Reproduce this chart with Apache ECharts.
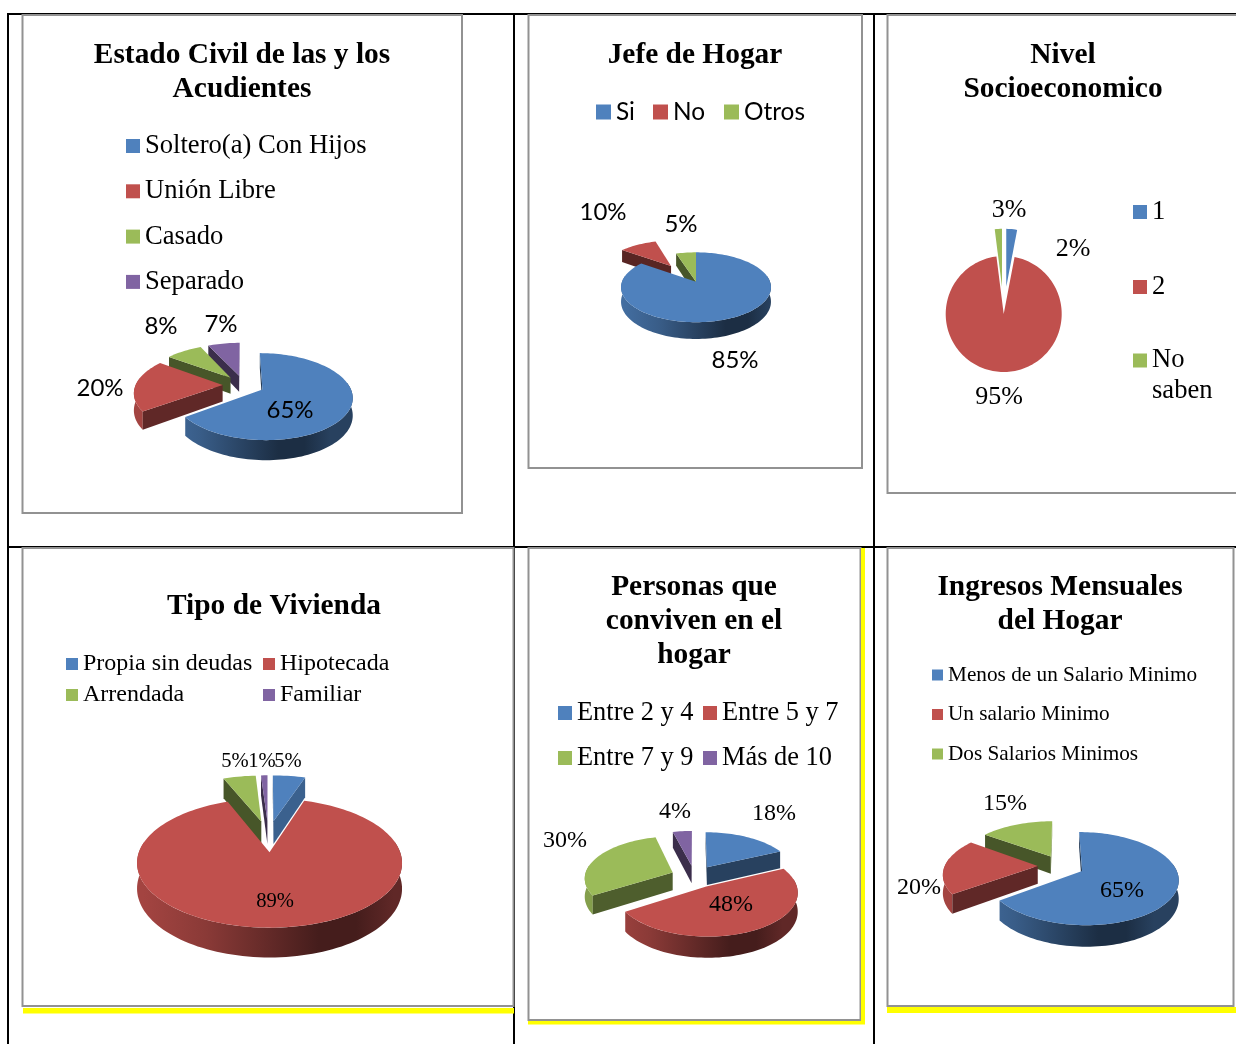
<!DOCTYPE html>
<html><head><meta charset="utf-8">
<style>html,body{margin:0;padding:0;background:#fff}#c{width:1236px;height:1044px}</style>
<script src="https://cdn.jsdelivr.net/npm/echarts@6/dist/echarts.min.js"></script>
</head><body><div id="c"></div>
<script>
// ---------- data ----------
const estadoCategories = ['Soltero(a) Con Hijos','Unión Libre','Casado','Separado'];
const estadoValues = [65,20,8,7];
const jefeCategories = ['Si','No','Otros'];
const jefeValues = [85,10,5];
const nivelCategories = ['1','2','No saben'];
const nivelValues = [3,95,2];
const viviendaCategories = ['Propia sin deudas','Hipotecada','Arrendada','Familiar'];
const viviendaValues = [5,89,5,1];
const personasCategories = ['Entre 2 y 4','Entre 5 y 7','Entre 7 y 9','Más de 10'];
const personasValues = [18,48,30,4];
const ingresosCategories = ['Menos de un Salario Minimo','Un salario Minimo','Dos Salarios Minimos'];
const ingresosValues = [65,20,15];

// ---------- layout & style ----------
const PALETTE = ['#4F81BD','#C0504D','#9BBB59','#8064A2'];
const SERIF = '"Liberation Serif"', SANS = 'Lato';
const pies = [
 {cats:estadoCategories, vals:estadoValues, cx:243.5, cy:385, rx:87, squash:.47, explode:[.24,.24,.24,.24], font:SANS, size:24,
  labels:[[290,410],[100,388],[161,326],[221,324]]},
 {cats:jefeCategories, vals:jefeValues, cx:696, cy:281.7, rx:74, squash:.46, explode:[0,.62,0], font:SANS, size:24,
  labels:[[735,360],[603,212],[681,224]]},
 {cats:nivelCategories, vals:nivelValues, cx:1003.7, cy:314, rx:58, flat:true, explode:[.47,0,.47], font:SERIF, size:26,
  labels:[[1009,210],[999,397],[1073,249]]},
 {cats:viviendaCategories, vals:viviendaValues, cx:268.4, cy:836, rx:125, squash:.46, explode:[.27,.27,.27,.27], font:SERIF, size:20.6,
  labels:[[288,762],[275,902],[235,762],[262,762]]},
 {cats:personasCategories, vals:personasValues, cx:694.5, cy:876.5, rx:88, squash:.47, k:.12, depth:.205, explode:[.27,.27,.27,.27], font:SERIF, size:24,
  labels:[[774,814],[731,905],[565,841],[675,812]]},
 {cats:ingresosCategories, vals:ingresosValues, cx:1061, cy:866, rx:93, squash:.47, explode:[.25,.25,.25], font:SERIF, size:24,
  labels:[[1122,891],[919,888],[1005,804]]}
];
const titles = [
 ['Estado Civil de las y los\nAcudientes',242,39],
 ['Jefe de Hogar',695,39],
 ['Nivel\nSocioeconomico',1063,39],
 ['Tipo de Vivienda',274,590],
 ['Personas que\nconviven en el\nhogar',694,571],
 ['Ingresos Mensuales\ndel Hogar',1060,571]
];
const legends = [
 {data:estadoCategories, left:126, top:131, orient:'vertical', w:14, h:14, gap:15.3, lh:30, font:SERIF, size:26.6},
 {data:jefeCategories.slice(0,1), left:596, top:97, w:15, h:15, lh:30, font:SANS, size:24.4},
 {data:jefeCategories.slice(1,2), left:653, top:97, w:15, h:15, lh:30, font:SANS, size:24.4},
 {data:jefeCategories.slice(2,3), left:724, top:97, w:15, h:15, lh:30, font:SANS, size:24.4},
 {data:nivelCategories.slice(0,2), left:1133, top:197, orient:'vertical', w:14, h:14, gap:45, lh:30, font:SERIF, size:26.6},
 {data:nivelCategories.slice(2), left:1133, top:314, w:14, h:14, lh:31, font:SERIF, size:26.6},
 {data:[viviendaCategories[0],viviendaCategories[2]], left:66, top:649, orient:'vertical', w:12, h:12, gap:1, lh:30, font:SERIF, size:24},
 {data:[viviendaCategories[1],viviendaCategories[3]], left:263, top:649, orient:'vertical', w:12, h:12, gap:1, lh:30, font:SERIF, size:24},
 {data:[personasCategories[0],personasCategories[2]], left:558, top:698, orient:'vertical', w:14, h:14, gap:15, lh:30, font:SERIF, size:26.4},
 {data:[personasCategories[1],personasCategories[3]], left:703, top:698, orient:'vertical', w:14, h:14, gap:15, lh:30, font:SERIF, size:26.4},
 {data:ingresosCategories, left:932, top:663, orient:'vertical', w:11, h:11, gap:15.5, lh:24, font:SERIF, size:21.25}
];
const PERSPECTIVE = .16, DEPTH = .19;
const WALL_STOPS = [[0,.85],[.25,.72],[.7,.36],[.85,.36],[1,.5]];
const GRAY = '#929292', BLACK = '#000', YELLOW = '#ffff00';
// [x, y, w, h, colour]
const rules = [
 [7,13,1229,2,BLACK],[7,13,2,1031,BLACK],[513,13,2,1031,BLACK],[873,13,2,1031,BLACK],[7,546,1229,2,BLACK],
 [23,1008,491,5.5,YELLOW],[528,1021,337,3.5,YELLOW],[861,548,4,476,YELLOW],[887,1007,349,6,YELLOW]
];
// [x, y, w, h]  (open right edge where w runs past the page)
const frames = [[22.5,15,439.5,498],[528.5,15,333.5,453],[887.5,15,360,478],
 [22.5,548,491,458],[528.5,548,332,472],[887.5,548,346,458]];

const rad = d => d*Math.PI/180;
function shade(hex,f){
 const n=parseInt(hex.slice(1),16);
 return 'rgb('+[(n>>16)&255,(n>>8)&255,n&255].map(c=>Math.round(c*f)).join(',')+')';
}
function sliceSeries(pie,i){
 const total=pie.vals.reduce((a,b)=>a+b,0);
 let acc=0; for(let j=0;j<i;j++) acc+=pie.vals[j];
 const color=PALETTE[i];
 return {
  type:'custom', name:pie.cats[i], coordinateSystem:'none', animation:false, silent:true,
  itemStyle:{color:color},
  data:[{name:pie.cats[i],value:pie.vals[i]}],
  renderItem:function(params,api){
   const value=api.value(0);
   const a1=acc/total*360, a2=(acc+value)/total*360, mid=(a1+a2)/2;
   const k=pie.flat?0:(pie.k||PERSPECTIVE), rx=pie.rx, ry=pie.flat?rx:rx*pie.squash, d=pie.flat?0:rx*(pie.depth||DEPTH);
   const u0=pie.explode[i]*Math.sin(rad(mid)), v0=pie.explode[i]*Math.cos(rad(mid));
   const proj=(u,v,z)=>{const w=1+k*v;return [pie.cx+rx*u/w, pie.cy-ry*v/w+d*z/w];};
   const rim=(t,z)=>proj(u0+Math.sin(rad(t)),v0+Math.cos(rad(t)),z);
   const arc=(from,to,z)=>{const out=[],n=Math.max(1,Math.ceil(Math.abs(to-from)/2));
     for(let s=0;s<=n;s++) out.push(rim(from+(to-from)*s/n,z)); return out;};
   const base=1000*Math.round(100*(1-Math.cos(rad(mid))))+10;
   const children=[];
   if(d>0){
    const from=Math.max(a1,80), to=Math.min(a2,280);
    if(to>from){
     const x0=pie.cx-rx, x1=pie.cx+rx;
     const grad=new echarts.graphic.LinearGradient(x0,0,x1,0,WALL_STOPS.map(s=>({offset:s[0],color:shade(color,s[1])})),true);
     children.push({type:'polygon',z2:base,shape:{points:arc(from,to,0).concat(arc(to,from,1))},style:{fill:grad}});
    }
    [[a1,a1-90],[a2,a2+90]].forEach(e=>{
     const n=e[1];
     if(Math.cos(rad(n))<=.02){
      const f=Math.sin(rad(n))>.85?.75:(Math.sin(rad(n))>.3?.5:.46);
      children.push({type:'polygon',z2:base+1,shape:{points:[proj(u0,v0,0),rim(e[0],0),rim(e[0],1),proj(u0,v0,1)]},
        style:{fill:shade(color,f)}});
     }
    });
   }
   children.push({type:'polygon',z2:base+2,shape:{points:[proj(u0,v0,0)].concat(arc(a1,a2,0))},style:{fill:color}});
   const pos=pie.labels[i];
   children.push({type:'text',z2:900000,x:pos[0],y:pos[1],style:{text:value+'%',fill:'#000',
     font:pie.size+'px '+pie.font,textAlign:'center',textVerticalAlign:'middle'}});
   return {type:'group',children:children};
  }
 };
}
const series=[];
pies.forEach(p=>p.cats.forEach((c,i)=>series.push(sliceSeries(p,i))));

const graphic=[];
frames.forEach(f=>graphic.push({type:'rect',z:1,shape:{x:f[0],y:f[1],width:f[2],height:f[3]},
  style:{fill:'#fff',stroke:GRAY,lineWidth:2}}));
rules.forEach(r=>graphic.unshift({type:'rect',z:r[4]===BLACK?0:2,shape:{x:r[0],y:r[1],width:r[2],height:r[3]},style:{fill:r[4]}}));

const option={
 backgroundColor:'#fff',animation:false,
 title:titles.map(t=>({text:t[0],left:t[1],top:t[2],textAlign:'center',padding:0,
   textStyle:{fontFamily:SERIF,fontWeight:'bold',fontSize:29.4,lineHeight:33.7,color:'#000'}})),
 legend:legends.map(l=>({
   data:l.data,left:l.left,top:l.top,orient:l.orient||'horizontal',padding:0,icon:'rect',
   itemWidth:l.w,itemHeight:l.h,itemGap:l.gap||0,selectedMode:false,
   formatter:n=>n==='No saben'?'\nNo\nsaben':n,
   textStyle:{fontFamily:l.font,fontSize:l.size,lineHeight:l.lh,color:'#000'}
 })),
 tooltip:{show:false},
 graphic:graphic,
 series:series
};
echarts.init(document.getElementById('c'),null,{renderer:'canvas'}).setOption(option);
</script></body></html>
